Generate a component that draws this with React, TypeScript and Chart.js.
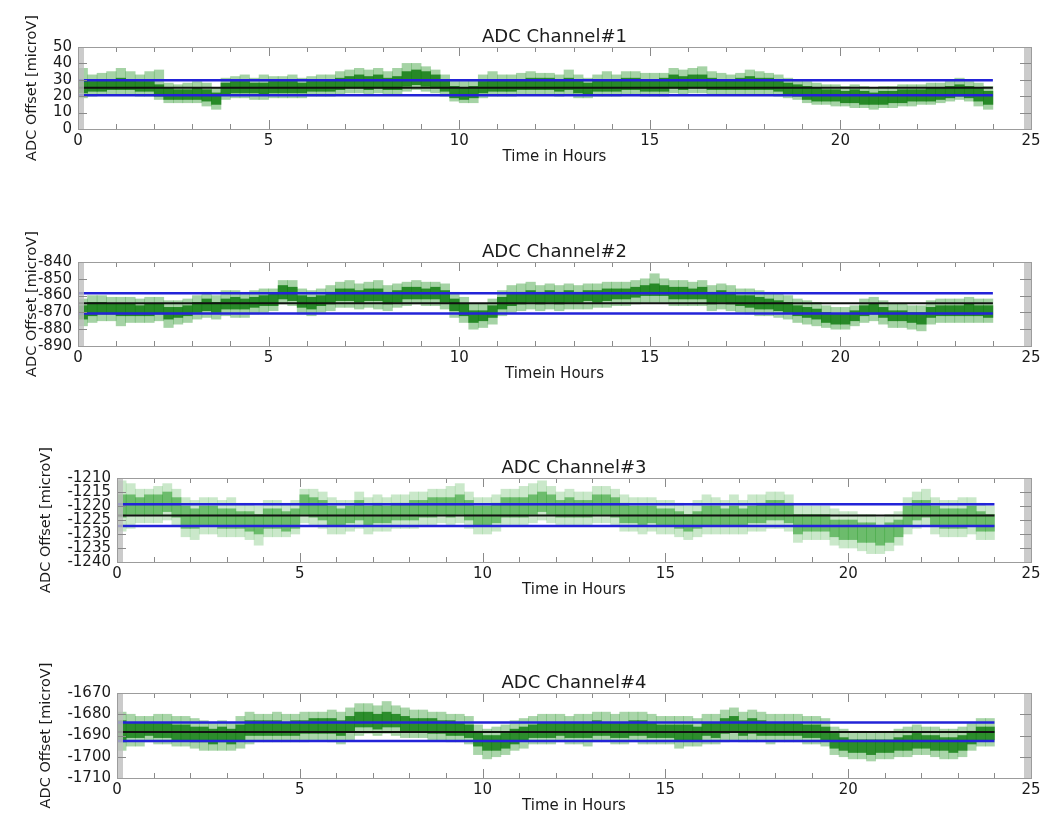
import React, { useEffect, useRef } from 'react';
import { Chart, registerables } from 'chart.js';

Chart.register(...registerables);

const FONT = "'DejaVu Sans', 'Liberation Sans', sans-serif";

// time bins (quarter hours), bin centres in hours
const BIN_HOURS: number[] = Array.from({ length: 96 }, (_, i) => i * 0.25 + 0.125);
const X_TICK_STEP = 5;

// ---------- Channel 1 ----------
const CH1_OUTER_HI = [37,33,34,35,37,35,33,35, 36,28,27,28,29,28,25,31, 32,33,31,33,32,32,33,31, 32,33,33,35,36,37,36,37, 35,37,40,40,38,36,33,30, 29,30,33,35,33,33,34,35, 34,34,33,36,33,31,33,35, 33,35,35,34,34,34,37,36, 37,38,35,34,33,34,36,35, 34,33,31,30,29,28,27,27, 26,27,26,25,26,26,27,27, 27,28,28,30,31,29,28,26];
const CH1_CORE_HI = [30,29,30,30,31,30,29,29, 27,25,24,24,25,24,22,28, 29,29,28,28,29,29,29,28, 29,29,30,31,32,33,32,33, 31,32,35,36,35,33,30,26, 25,26,29,30,30,30,30,31, 31,31,30,31,30,28,30,30, 30,31,31,30,30,31,33,32, 33,33,31,30,30,31,32,31, 31,30,28,27,26,25,24,24, 23,24,23,22,23,23,24,24, 24,25,25,26,27,26,25,23];
const CH1_CORE_LO = [22,23,23,24,24,24,23,23, 20,18,18,18,18,17,15,21, 22,22,22,21,22,22,22,22, 23,23,23,24,25,25,24,25, 24,24,26,27,26,25,23,19, 18,19,22,23,23,23,24,24, 24,24,23,24,22,21,23,23, 23,24,24,23,23,23,25,24, 25,25,24,24,24,24,24,24, 24,23,21,20,18,17,17,17, 16,16,15,15,15,16,16,17, 17,17,18,19,20,19,17,15];
const CH1_OUTER_LO = [19,20,21,21,21,21,20,20, 18,16,16,16,16,14,12,18, 19,19,18,18,19,19,19,19, 20,20,20,21,22,22,21,22, 21,21,23,24,23,22,20,17, 16,16,19,20,20,20,21,21, 21,21,20,21,19,19,20,20, 20,21,21,20,20,20,22,21, 22,22,21,21,21,21,21,21, 21,20,19,18,16,15,15,14, 14,13,13,12,13,13,14,14, 15,15,16,17,18,17,14,12];

// ---------- Channel 2 ----------
const CH2_OUTER_HI = [-862,-860,-860,-861,-861,-861,-862,-861, -861,-863,-863,-862,-860,-858,-860,-857, -857,-858,-857,-856,-856,-851,-851,-856, -857,-856,-854,-852,-851,-853,-852,-851, -854,-853,-852,-851,-852,-852,-853,-858, -861,-865,-865,-862,-857,-854,-853,-852, -854,-853,-854,-853,-854,-853,-853,-852, -852,-852,-851,-850,-847,-850,-851,-851, -852,-851,-854,-853,-854,-856,-856,-857, -858,-859,-860,-862,-863,-864,-866,-867, -867,-866,-862,-861,-863,-865,-865,-866, -866,-863,-862,-862,-862,-861,-862,-862];
const CH2_CORE_HI = [-866,-864,-864,-865,-865,-865,-866,-865, -865,-867,-867,-866,-864,-862,-864,-862, -861,-862,-861,-860,-859,-854,-855,-860, -861,-860,-858,-856,-856,-857,-856,-856, -858,-857,-855,-855,-856,-855,-857,-862, -865,-869,-869,-866,-861,-858,-858,-857, -858,-857,-858,-857,-858,-857,-857,-856, -856,-856,-855,-854,-853,-854,-855,-855, -856,-855,-858,-857,-858,-860,-860,-861, -862,-863,-864,-866,-867,-868,-870,-871, -871,-869,-866,-865,-867,-869,-869,-870, -870,-867,-866,-866,-866,-865,-866,-866];
const CH2_CORE_LO = [-874,-872,-871,-871,-872,-872,-872,-872, -871,-874,-873,-872,-870,-869,-870,-868, -868,-868,-867,-866,-866,-862,-863,-867, -868,-866,-865,-863,-863,-864,-863,-863, -865,-864,-862,-862,-862,-862,-864,-869, -872,-876,-875,-873,-868,-866,-865,-864, -865,-864,-865,-864,-864,-863,-864,-863, -862,-862,-861,-860,-860,-860,-862,-862, -862,-862,-865,-864,-865,-866,-867,-868, -868,-869,-870,-872,-873,-874,-876,-877, -877,-875,-872,-871,-873,-875,-875,-876, -877,-873,-872,-872,-872,-872,-872,-873];
const CH2_OUTER_LO = [-878,-876,-875,-875,-878,-876,-876,-876, -875,-879,-877,-876,-874,-873,-874,-872, -873,-873,-871,-870,-869,-865,-866,-871, -872,-870,-869,-867,-867,-868,-867,-868, -869,-867,-866,-865,-866,-866,-868,-873, -876,-880,-879,-877,-872,-870,-869,-868, -869,-868,-869,-868,-868,-868,-867,-867, -866,-866,-865,-864,-864,-864,-866,-866, -866,-866,-869,-868,-869,-870,-871,-872, -872,-873,-874,-876,-877,-878,-879,-880, -880,-878,-876,-875,-877,-879,-879,-880, -881,-877,-876,-876,-876,-876,-876,-876];

// ---------- Channel 3 ----------
const CH3_OUTER_HI = [-1211,-1212,-1214,-1214,-1213,-1212,-1214,-1217, -1218,-1217,-1217,-1218,-1217,-1219,-1219,-1220, -1218,-1218,-1219,-1218,-1214,-1214,-1215,-1217, -1218,-1218,-1215,-1217,-1216,-1217,-1216,-1216, -1215,-1215,-1214,-1214,-1213,-1212,-1215,-1217, -1217,-1216,-1214,-1214,-1213,-1212,-1211,-1213, -1215,-1214,-1215,-1215,-1213,-1213,-1214,-1216, -1217,-1217,-1217,-1218,-1218,-1219,-1220,-1218, -1216,-1217,-1218,-1216,-1218,-1216,-1216,-1215, -1215,-1216,-1220,-1220,-1220,-1220,-1221,-1222, -1222,-1223,-1223,-1224,-1223,-1222,-1217,-1215, -1214,-1217,-1218,-1218,-1217,-1217,-1219,-1220];
const CH3_CORE_HI = [-1216,-1216,-1217,-1216,-1216,-1215,-1217,-1220, -1221,-1220,-1220,-1221,-1221,-1222,-1222,-1223, -1221,-1221,-1222,-1221,-1216,-1217,-1218,-1220, -1221,-1220,-1218,-1220,-1219,-1220,-1219,-1219, -1218,-1218,-1217,-1217,-1217,-1216,-1218,-1220, -1220,-1219,-1217,-1217,-1217,-1216,-1215,-1216, -1218,-1217,-1218,-1218,-1216,-1216,-1217,-1219, -1220,-1220,-1220,-1221,-1221,-1222,-1223,-1222, -1220,-1220,-1221,-1220,-1221,-1220,-1219,-1218, -1218,-1219,-1223,-1223,-1223,-1223,-1225,-1225, -1225,-1226,-1226,-1227,-1226,-1225,-1220,-1218, -1218,-1220,-1221,-1221,-1221,-1220,-1222,-1223];
const CH3_CORE_LO = [-1224,-1223,-1223,-1223,-1223,-1222,-1224,-1228, -1228,-1227,-1227,-1228,-1228,-1228,-1229,-1230, -1228,-1228,-1229,-1228,-1223,-1224,-1225,-1227, -1227,-1226,-1225,-1227,-1226,-1226,-1225,-1225, -1225,-1224,-1224,-1223,-1224,-1223,-1225,-1227, -1227,-1226,-1224,-1224,-1224,-1223,-1222,-1223, -1224,-1224,-1224,-1224,-1223,-1223,-1224,-1226, -1226,-1227,-1226,-1227,-1227,-1228,-1229,-1228, -1227,-1227,-1227,-1227,-1227,-1226,-1226,-1225, -1225,-1226,-1230,-1229,-1229,-1229,-1231,-1232, -1232,-1233,-1233,-1234,-1233,-1231,-1227,-1225, -1224,-1227,-1228,-1228,-1228,-1227,-1229,-1229];
const CH3_OUTER_LO = [-1229,-1228,-1226,-1226,-1226,-1225,-1227,-1231, -1232,-1230,-1230,-1231,-1231,-1231,-1232,-1234, -1231,-1231,-1231,-1230,-1226,-1227,-1228,-1230, -1230,-1229,-1228,-1230,-1229,-1229,-1228,-1228, -1228,-1227,-1227,-1226,-1227,-1226,-1228,-1230, -1230,-1229,-1227,-1227,-1227,-1226,-1225,-1226, -1227,-1227,-1227,-1227,-1226,-1226,-1227,-1229, -1229,-1230,-1229,-1230,-1230,-1231,-1232,-1231, -1230,-1230,-1230,-1230,-1230,-1229,-1229,-1228, -1228,-1229,-1233,-1232,-1232,-1232,-1234,-1235, -1235,-1236,-1237,-1237,-1236,-1234,-1230,-1228, -1227,-1230,-1231,-1231,-1231,-1230,-1232,-1232];

// ---------- Channel 4 ----------
const CH4_OUTER_HI = [-1679,-1680,-1681,-1681,-1680,-1680,-1681,-1681, -1682,-1683,-1684,-1683,-1684,-1681,-1679,-1680, -1680,-1679,-1680,-1680,-1679,-1679,-1679,-1678, -1679,-1677,-1675,-1675,-1676,-1674,-1676,-1677, -1678,-1678,-1679,-1679,-1680,-1680,-1681,-1685, -1687,-1686,-1685,-1683,-1682,-1681,-1680,-1680, -1680,-1681,-1680,-1680,-1679,-1679,-1680,-1679, -1679,-1679,-1680,-1681,-1681,-1681,-1681,-1682, -1680,-1680,-1678,-1677,-1679,-1678,-1679,-1680, -1680,-1680,-1680,-1681,-1681,-1682,-1686,-1687, -1688,-1688,-1689,-1688,-1688,-1687,-1686,-1685, -1686,-1686,-1687,-1687,-1686,-1684,-1682,-1682];
const CH4_CORE_HI = [-1683,-1684,-1684,-1684,-1684,-1684,-1685,-1685, -1686,-1686,-1687,-1686,-1687,-1685,-1683,-1683, -1683,-1683,-1684,-1683,-1683,-1682,-1682,-1682, -1683,-1681,-1679,-1679,-1680,-1679,-1680,-1681, -1682,-1682,-1682,-1683,-1683,-1684,-1685,-1688, -1690,-1690,-1689,-1687,-1686,-1685,-1684,-1684, -1684,-1684,-1684,-1684,-1683,-1684,-1684,-1684, -1683,-1683,-1684,-1685,-1685,-1685,-1685,-1686, -1684,-1684,-1682,-1681,-1683,-1682,-1683,-1684, -1684,-1684,-1684,-1685,-1685,-1686,-1689,-1691, -1692,-1692,-1692,-1692,-1692,-1691,-1690,-1689, -1690,-1690,-1691,-1691,-1690,-1688,-1686,-1686];
const CH4_CORE_LO = [-1693,-1691,-1691,-1690,-1691,-1691,-1692,-1692, -1693,-1693,-1694,-1693,-1694,-1692,-1690,-1690, -1690,-1690,-1690,-1690,-1689,-1689,-1689,-1689, -1690,-1688,-1686,-1686,-1687,-1686,-1686,-1688, -1688,-1688,-1689,-1689,-1690,-1690,-1691,-1695, -1697,-1697,-1696,-1694,-1692,-1691,-1691,-1691, -1690,-1691,-1691,-1691,-1690,-1690,-1691,-1691, -1690,-1690,-1691,-1691,-1691,-1692,-1692,-1692, -1690,-1691,-1689,-1688,-1690,-1689,-1690,-1690, -1690,-1690,-1690,-1691,-1691,-1692,-1696,-1697, -1698,-1698,-1699,-1698,-1698,-1697,-1697,-1696, -1696,-1697,-1697,-1698,-1697,-1694,-1692,-1692];
const CH4_OUTER_LO = [-1697,-1695,-1695,-1693,-1694,-1694,-1695,-1695, -1696,-1697,-1697,-1697,-1697,-1696,-1694,-1693, -1693,-1693,-1693,-1693,-1693,-1692,-1692,-1693, -1694,-1692,-1690,-1689,-1690,-1689,-1690,-1691, -1691,-1691,-1692,-1692,-1693,-1693,-1694,-1699, -1701,-1700,-1699,-1697,-1696,-1694,-1694,-1694, -1693,-1694,-1694,-1695,-1693,-1693,-1694,-1694, -1693,-1694,-1694,-1694,-1694,-1696,-1695,-1695, -1694,-1694,-1693,-1692,-1693,-1693,-1693,-1694, -1693,-1693,-1693,-1694,-1694,-1695,-1699,-1700, -1701,-1701,-1702,-1701,-1701,-1700,-1700,-1699, -1699,-1700,-1701,-1701,-1700,-1697,-1695,-1695];

// mean and +/- 1 sigma levels per channel
const CH_MEAN = [25.2, -864.6, -1223.4, -1688.4];
const CH_UPPER = [29.8, -858.6, -1219.4, -1683.9];
const CH_LOWER = [20.6, -870.6, -1227.1, -1692.6];

const CH_TITLES = ['ADC Channel#1', 'ADC Channel#2', 'ADC Channel#3', 'ADC Channel#4'];
const CH_XTITLES = ['Time in Hours', 'Timein Hours', 'Time in Hours', 'Time in Hours'];
const Y_TITLE = 'ADC Offset [microV]';
const Y_MIN = [0, -890, -1240, -1710];
const Y_MAX = [50, -840, -1210, -1670];
const Y_STEP = [10, 10, 5, 10];

const SERIES = [
  [CH1_OUTER_LO, CH1_CORE_LO, CH1_CORE_HI, CH1_OUTER_HI],
  [CH2_OUTER_LO, CH2_CORE_LO, CH2_CORE_HI, CH2_OUTER_HI],
  [CH3_OUTER_LO, CH3_CORE_LO, CH3_CORE_HI, CH3_OUTER_HI],
  [CH4_OUTER_LO, CH4_CORE_LO, CH4_CORE_HI, CH4_OUTER_HI],
];

// layout (page pixels)
const PLOT_LEFT = [78, 78, 117, 117];
const PLOT_RIGHT = 1031;
const PLOT_TOP = [47, 262, 478, 693];
const PLOT_BOTTOM = [129, 346, 562, 778];
const Y_TITLE_PAD = [24, 24, 38, 38];
const CORE_COLOR = ['rgba(22,128,22,0.88)', 'rgba(22,128,22,0.88)', 'rgba(60,165,60,0.66)', 'rgba(22,128,22,0.85)'];
const OUTER_COLOR = ['rgba(40,150,40,0.42)', 'rgba(40,150,40,0.42)', 'rgba(90,185,90,0.32)', 'rgba(40,150,40,0.4)'];
const TITLE_SIZE = 18;
const TITLE_PAD_TOP = 15;
const TOP_SPACE = 34;
const BOTTOM_SPACE = 48;
const W = 1051;

function framePlugin(idx: number) {
  return {
    id: 'frame' + idx,
    afterDatasetsDraw(chart: any) {
      const { ctx, chartArea } = chart;
      const { left, right, top, bottom } = chartArea;
      const xs = chart.scales.x;
      const ys = chart.scales.y;
      ctx.save();
      // dense minor-tick stripes on the y edges
      ctx.fillStyle = 'rgba(190,190,190,0.8)';
      ctx.fillRect(left, top, 6, bottom - top);
      ctx.fillRect(right - 7, top, 7, bottom - top);
      ctx.strokeStyle = '#8a8a8a';
      ctx.lineWidth = 1;
      ctx.beginPath();
      for (let v = Y_MIN[idx]; v <= Y_MAX[idx] + 1e-9; v += Y_STEP[idx]) {
        const y = Math.round(ys.getPixelForValue(v)) + 0.5;
        ctx.moveTo(left, y); ctx.lineTo(left + 9, y);
        ctx.moveTo(right, y); ctx.lineTo(right - 11, y);
      }
      for (let h = 1; h < 25; h++) {
        const x = Math.round(xs.getPixelForValue(h)) + 0.5;
        const len = h % 5 === 0 ? 9 : 5;
        ctx.moveTo(x, bottom); ctx.lineTo(x, bottom - len);
        ctx.moveTo(x, top); ctx.lineTo(x, top + len);
      }
      ctx.stroke();
      ctx.strokeStyle = '#9c9c9c';
      ctx.strokeRect(Math.round(left) + 0.5, Math.round(top) + 0.5, Math.round(right - left), Math.round(bottom - top));
      ctx.restore();
    },
  };
}

function Panel({ idx }: { idx: number }) {
  const ref = useRef<HTMLCanvasElement>(null);
  const height = PLOT_BOTTOM[idx] - PLOT_TOP[idx] + TOP_SPACE + BOTTOM_SPACE;
  useEffect(() => {
    const canvas = ref.current!;
    const [olo, clo, chi, ohi] = SERIES[idx];
    const band = (lo: number[], hi: number[]) => BIN_HOURS.map((x, i) => ({ x, y: [lo[i], hi[i]] }));
    const level = (v: number) => [{ x: 0, y: v }, { x: 24, y: v }];
    const lineDs = (v: number, color: string, w: number, order: number) => ({
      type: 'line' as const,
      data: level(v),
      borderColor: color,
      borderWidth: w,
      pointRadius: 0,
      fill: false,
      order,
    });
    const barCommon = { grouped: false, barPercentage: 1, categoryPercentage: 1, borderWidth: 0 };
    const chart = new Chart(canvas, {
      type: 'bar',
      data: {
        datasets: [
          lineDs(CH_UPPER[idx], '#2323d8', 2.5, 0),
          lineDs(CH_LOWER[idx], '#2323d8', 2.5, 0),
          lineDs(CH_MEAN[idx], '#111111', 2, 0),
          { ...barCommon, data: band(clo, chi), backgroundColor: CORE_COLOR[idx], order: 1 },
          { ...barCommon, data: band(olo, ohi), backgroundColor: OUTER_COLOR[idx], order: 2 },
        ] as any,
      },
      options: {
        animation: false,
        responsive: false,
        maintainAspectRatio: false,
        events: [],
        layout: { padding: { top: 0, left: 0, right: W - PLOT_RIGHT, bottom: 0 } },
        plugins: {
          legend: { display: false },
          tooltip: { enabled: false },
          title: {
            display: true,
            text: CH_TITLES[idx],
            fullSize: false,
            color: '#1a1a1a',
            font: { family: FONT, size: TITLE_SIZE, weight: 'normal', lineHeight: 1 },
            padding: { top: TITLE_PAD_TOP, bottom: TOP_SPACE - TITLE_PAD_TOP - TITLE_SIZE },
          },
        },
        scales: {
          x: {
            type: 'linear',
            min: 0,
            max: 25,
            offset: false,
            grid: { display: false, drawTicks: false },
            border: { display: false },
            ticks: {
              stepSize: X_TICK_STEP,
              padding: 3,
              color: '#1a1a1a',
              font: { family: FONT, size: 15 },
              maxRotation: 0,
              autoSkip: false,
              callback: (v: any) => String(v),
            },
            title: {
              display: true,
              text: CH_XTITLES[idx],
              color: '#1a1a1a',
              font: { family: FONT, size: 15 },
              padding: { top: 0, bottom: 11 },
            },
            afterFit: (s: any) => { s.height = BOTTOM_SPACE; },
          },
          y: {
            min: Y_MIN[idx],
            max: Y_MAX[idx],
            grid: { display: false, drawTicks: false },
            border: { display: false },
            ticks: {
              stepSize: Y_STEP[idx],
              padding: 6,
              color: '#1a1a1a',
              font: { family: FONT, size: 15 },
              autoSkip: false,
              callback: (v: any) => String(v),
            },
            title: {
              display: true,
              text: Y_TITLE,
              color: '#1a1a1a',
              font: { family: FONT, size: 14.5 },
              padding: { top: Y_TITLE_PAD[idx], bottom: 0 },
            },
            afterFit: (s: any) => { s.width = PLOT_LEFT[idx]; },
          },
        },
      } as any,
      plugins: [framePlugin(idx)],
    });
    return () => chart.destroy();
  }, [idx]);
  return (
    <canvas
      ref={ref}
      width={W}
      height={height}
      style={{ position: 'absolute', left: 0, top: PLOT_TOP[idx] - TOP_SPACE, width: W, height }}
    />
  );
}

export default function App() {
  return (
    <div style={{ position: 'absolute', left: 0, top: 0, width: W, height: 819, background: '#ffffff', overflow: 'hidden' }}>
      {[0, 1, 2, 3].map((i) => (
        <Panel key={i} idx={i} />
      ))}
    </div>
  );
}
